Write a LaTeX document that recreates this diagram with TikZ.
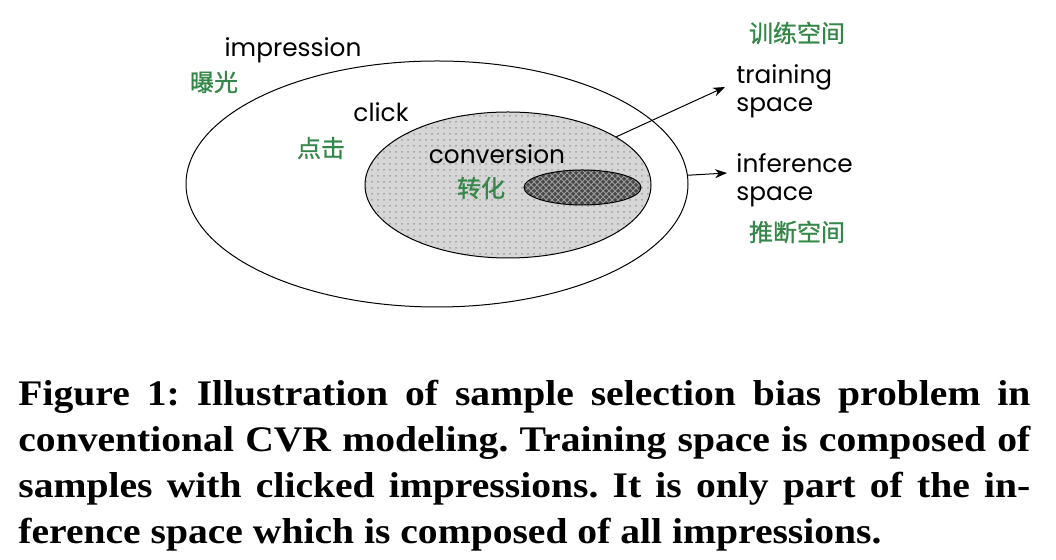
\documentclass[tikz,border=0pt]{standalone}
\usepackage{fontspec}
\setmainfont{Liberation Serif}
\newfontfamily\capfont[FakeStretch=1.1]{Liberation Serif}
\newfontfamily\gothic{Poppins}
\newfontfamily\cjk[FakeBold=1]{Noto Sans CJK SC}
\usetikzlibrary{arrows.meta,patterns,shapes.geometric}
\definecolor{cngreen}{RGB}{52,135,72}
\begin{document}
\frenchspacing
\begin{tikzpicture}[x=0.5pt,y=-0.5pt,
 lbl/.style={font=\gothic\fontsize{12.4}{14}\selectfont, inner sep=0pt},
 cn/.style={font=\cjk\fontsize{12}{14}\selectfont, text=cngreen, inner sep=0pt},
 ell/.style={ellipse, draw, line width=0.5pt, inner sep=0pt},
 arr/.style={-{Stealth[length=6pt,width=4.5pt]}, line width=0.5pt},
 captext/.style={font=\capfont\bfseries\fontsize{18}{23}\selectfont, anchor=base west, inner sep=0pt}]
\useasboundingbox (0,0) rectangle (1056,560);
\node[ell, minimum width=251pt, minimum height=123pt] (outer) at (437,184) {};
\node[ell, minimum width=143pt, minimum height=73pt, preaction={fill=black!16}, pattern=dots, pattern color=black!38] (click) at (508,185) {};
\node[ell, minimum width=58.5pt, minimum height=17.5pt, preaction={fill=black!72}, pattern=crosshatch, pattern color=black!38] (conv) at (582.5,187.5) {};
\node[lbl] (imp) at (293,50) {impression};
\node[cn] (impcn) at (214,82) {曝光};
\node[lbl] (clk) at (381,112) {click};
\node[cn] (clkcn) at (321,148) {点击};
\node[lbl] (convl) at (497,154) {conversion};
\node[cn] (convcn) at (481,188) {转化};
\node[cn] (traincn) at (797,33) {训练空间};
\node[lbl, anchor=west, align=left] (train) at (736,91) {training\\space};
\node[lbl, anchor=west, align=left] (inf) at (736,180) {inference\\space};
\node[cn] (infcn) at (797,232) {推断空间};
\coordinate (trainTip) at (725,87);
\coordinate (infTip) at (727,173);
\draw[arr] (click.24.4) -- (trainTip);
\draw[arr] (outer.2.6) -- (infTip);
\node[captext] (c1) at (18,406) {\makebox[506pt][s]{Figure 1: Illustration of sample selection bias problem in}};
\node[captext] (c2) at (18,452) {\makebox[506pt][s]{conventional CVR modeling. Training space is composed of}};
\node[captext] (c3) at (18,498) {\makebox[506pt][s]{samples with clicked impressions. It is only part of the in-}};
\node[captext] (c4) at (18,544) {ference space which is composed of all impressions.};
\end{tikzpicture}
\end{document}
